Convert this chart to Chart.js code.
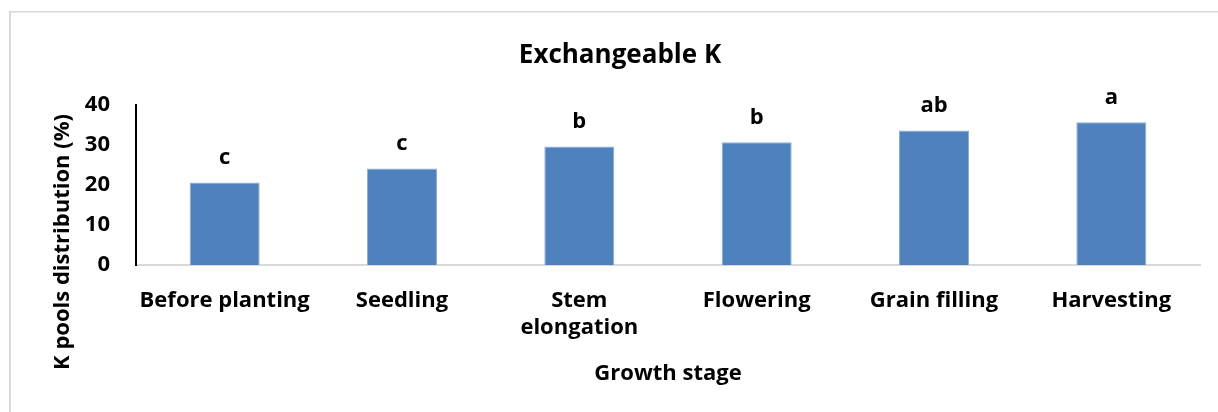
<!DOCTYPE html>
<html>
<head>
<meta charset="utf-8">
<script src="https://cdn.jsdelivr.net/npm/chart.js@4"></script>
<style>
  html, body { margin: 0; padding: 0; background: #ffffff; }
  #wrap { width: 1218px; height: 412px; position: relative; }
</style>
</head>
<body>
<div id="wrap"><canvas id="c" width="1218" height="412"></canvas></div>
<script>
const categories = [
  "Before planting",
  "Seedling",
  ["Stem", "elongation"],
  "Flowering",
  "Grain filling",
  "Harvesting"
];
const exchangeableK = [20.6, 24.1, 29.6, 30.7, 33.6, 35.7];
const significanceLetters = ["c", "c", "b", "b", "ab", "a"];
const yTicks = [0, 10, 20, 30, 40];
const chartTitle = "Exchangeable K";
const xAxisTitle = "Growth stage";
const yAxisTitle = "K pools distribution (%)";

const FONT = "'Open Sans', 'Liberation Sans', sans-serif";

const decorPlugin = {
  id: "decor",
  beforeDraw(chart) {
    const ctx = chart.ctx;
    ctx.save();
    ctx.fillStyle = "#ffffff";
    ctx.fillRect(0, 0, chart.width, chart.height);
    ctx.fillStyle = "#d9d9d9";
    ctx.fillRect(9, 11, 2, chart.height);
    ctx.fillRect(9, 11, chart.width, 1.5);
    ctx.restore();
  },
  afterDraw(chart) {
    const ctx = chart.ctx;
    const area = chart.chartArea;
    ctx.save();
    ctx.fillStyle = "#000000";
    // title
    ctx.font = "bold 26px " + FONT;
    ctx.textAlign = "center";
    ctx.textBaseline = "alphabetic";
    ctx.fillText(chartTitle, 620, 62.5);
    // x axis title
    ctx.font = "bold 22px " + FONT;
    ctx.fillText(xAxisTitle, (area.left + area.right) / 2, 380);
    // y axis title
    ctx.save();
    ctx.translate(69, 242);
    ctx.rotate(-Math.PI / 2);
    ctx.textAlign = "center";
    ctx.textBaseline = "alphabetic";
    ctx.fillText(yAxisTitle, 0, 0);
    ctx.restore();
    // significance letters
    const meta = chart.getDatasetMeta(0);
    ctx.font = "bold 22px " + FONT;
    meta.data.forEach((bar, i) => {
      ctx.fillText(significanceLetters[i], bar.x, bar.y - 18.5);
    });
    ctx.restore();
  }
};

new Chart(document.getElementById("c"), {
  type: "bar",
  data: {
    labels: categories,
    datasets: [{
      data: exchangeableK,
      backgroundColor: "#4f81bd",
      borderColor: "#8fb0d8",
      borderWidth: 1,
      categoryPercentage: 1.0,
      barPercentage: 0.395
    }]
  },
  options: {
    responsive: false,
    animation: false,
    devicePixelRatio: 1,
    layout: { padding: { left: 0, right: 18, top: 105, bottom: 0 } },
    plugins: {
      legend: { display: false },
      title: { display: false },
      tooltip: { enabled: false }
    },
    scales: {
      x: {
        grid: { display: false, drawTicks: false },
        border: { display: true, color: "#d9d9d9", width: 2 },
        ticks: {
          color: "#000000",
          font: { family: FONT, size: 22, weight: "bold", lineHeight: 1.23 },
          padding: 22,
          maxRotation: 0,
          autoSkip: false
        },
        afterFit(scale) { scale.height = 412 - 265; }
      },
      y: {
        min: 0,
        max: 40,
        afterBuildTicks(scale) { scale.ticks = yTicks.map(v => ({ value: v })); },
        grid: { display: false, drawTicks: false },
        border: { display: true, color: "#000000", width: 2 },
        ticks: {
          color: "#000000",
          font: { family: FONT, size: 22, weight: "bold" },
          padding: 26
        },
        afterFit(scale) { scale.width = 136; }
      }
    }
  },
  plugins: [decorPlugin]
});
</script>
</body>
</html>
